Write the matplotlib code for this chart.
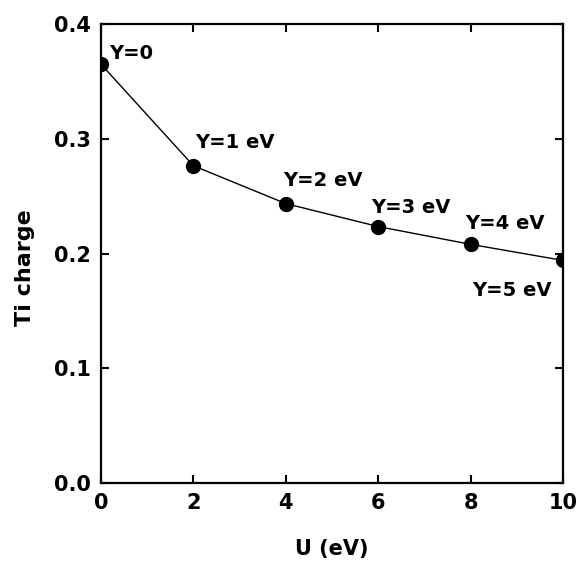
import matplotlib.pyplot as plt

u = [0, 2, 4, 6, 8, 10]
charge = [0.365, 0.2765, 0.2435, 0.2235, 0.208, 0.194]
labels = ['Y=0', 'Y=1 eV', 'Y=2 eV', 'Y=3 eV', 'Y=4 eV', 'Y=5 eV']
label_pos = [(0.17, 0.3696), (2.03, 0.292), (3.94, 0.259), (5.84, 0.2357), (7.88, 0.2217), (8.03, 0.1626)]

plt.rcParams['font.family'] = ['DejaVu Sans']
plt.rcParams['font.weight'] = 'bold'

fig = plt.figure(figsize=(5.79, 5.64), dpi=100)
ax = fig.add_axes([0.1744, 0.1436, 0.798, 0.8138])
ax.plot(u, charge, color='black', lw=1.0, marker='o', ms=10)
for (x, y), t in zip(label_pos, labels):
    ax.text(x, y, t, fontsize=14, fontweight='bold', ha='left', va='baseline')

ax.set_xlim(0, 10)
ax.set_ylim(0, 0.4)
ax.set_xticks([0, 2, 4, 6, 8, 10])
ax.set_yticks([0, 0.1, 0.2, 0.3, 0.4])
ax.set_yticklabels(['0.0', '0.1', '0.2', '0.3', '0.4'])
ax.tick_params(direction='in', length=6, width=1.5, top=True, right=True, labelsize=15, pad=7)
for s in ax.spines.values():
    s.set_linewidth(1.6)
ax.set_xlabel('U (eV)', fontsize=15, fontweight='bold', labelpad=19)
ax.set_ylabel('Ti charge', fontsize=16, fontweight='bold')
ax.yaxis.set_label_coords(-0.143, 0.47)

fig.savefig('out.png', dpi=100)
